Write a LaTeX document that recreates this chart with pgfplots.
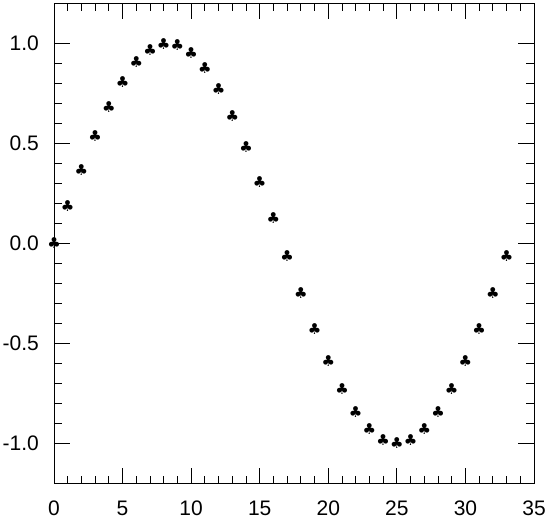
\documentclass[border=0pt]{standalone}
\usepackage{fontspec}
\setmainfont{Liberation Sans}
\newfontfamily\djv{DejaVu Sans}
\usepackage{pgfplots}
\pgfplotsset{compat=1.18}
\begin{document}
\begin{tikzpicture}
\begin{axis}[
  scale only axis, width=480pt, height=480pt,
  xmin=0, xmax=35, ymin=-1.2, ymax=1.2,
  xtick={0,5,...,35}, ytick={-1,-0.5,0,0.5,1},
  minor x tick num=4, minor y tick num=4,
  tick align=inside, xtick pos=both, ytick pos=both,
  major tick length=16pt, minor tick length=8pt,
  every tick/.style={black, line width=0.8pt},
  axis line style={black, line width=0.8pt},
  /pgf/number format/assume math mode=true,
  yticklabel style={/pgf/number format/fixed, /pgf/number format/fixed zerofill, /pgf/number format/precision=1, inner sep=0pt, xshift=-15pt},
  xticklabel style={inner sep=0pt, yshift=-17pt},
  tick label style={font=\fontsize{21}{25}\selectfont},
  clip=false,
]
\addplot[only marks, mark=text, text mark={\fontsize{15}{15}\selectfont\djv\symbol{"2663}}] coordinates {
(0,0) (1,0.1874) (2,0.3681) (3,0.5358) (4,0.6845) (5,0.8090) (6,0.9048) (7,0.9686)
(8,0.9980) (9,0.9921) (10,0.9511) (11,0.8763) (12,0.7705) (13,0.6374) (14,0.4818)
(15,0.3090) (16,0.1253) (17,-0.0628) (18,-0.2487) (19,-0.4258) (20,-0.5878)
(21,-0.7290) (22,-0.8443) (23,-0.9298) (24,-0.9823) (25,-1.0000) (26,-0.9823)
(27,-0.9298) (28,-0.8443) (29,-0.7290) (30,-0.5878) (31,-0.4258) (32,-0.2487) (33,-0.0628)
};
\end{axis}
\pgfresetboundingbox
\path ([shift={(-54pt,-35pt)}]current axis.south west) rectangle ([shift={(15pt,3.5pt)}]current axis.north east);
\end{tikzpicture}
\end{document}
